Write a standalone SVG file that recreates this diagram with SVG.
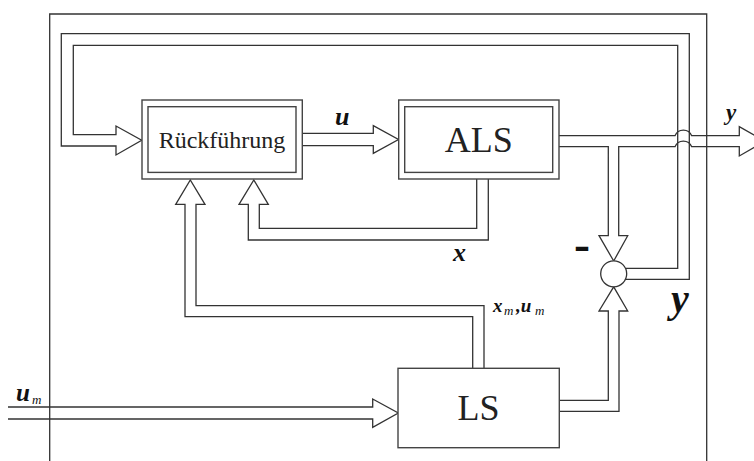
<svg xmlns="http://www.w3.org/2000/svg" width="754" height="461" viewBox="0 0 754 461">
<style>
.ln{fill:none;stroke:#333;stroke-width:1.3}
.box{fill:#fff;stroke:#444;stroke-width:1.4}
.t{font-family:"Liberation Serif","Times New Roman",serif;fill:#222}
.v{font-family:"Liberation Serif","Times New Roman",serif;font-weight:bold;font-style:italic;fill:#111}
.s{font-family:"Liberation Serif","Times New Roman",serif;font-style:italic;font-weight:normal;font-size:13px;fill:#111}
</style>
<rect width="754" height="461" fill="#fff"/>
<path id="frame" class="ln" stroke="#555" d="M49.7,461 V14 H706.7 V461"/>
<g id="connectors">
  <path class="ln" d="M625.5,268.3 H677.7 V45.3 H73.3 V134.7 H116 V126 L141.7,140.3 L116,155 V146 H61.3 V33.7 H689.3 V279.3 H625.5"/>
  <path class="ln" d="M302,133.3 H373.3 V125.7 L398.5,139.5 L373.3,153.3 V145.7 H302"/>
  <path class="ln" d="M559,135.7 H675 A9 9 0 0 1 691.7,135.7 H739.3 V126.7 L765,141.3 L739.3,156 V146.7 H691.7 A9 9 0 0 0 675,146.7 H618.7 V235.7 H627.7 L613.7,261 L599,235.7 H608.3 V146.7 H559"/>
  <path class="ln" d="M559.3,400.3 H608.3 V311 H599 L613.7,286.8 L627.7,311 H619 V411.3 H559.3"/>
  <path class="ln" d="M476.7,179 V228.3 H259.3 V204.3 H268.3 L253.8,180 L239,204.3 H248.3 V240 H488.3 V179"/>
  <path class="ln" d="M472.7,368.3 V316.7 H185 V204.3 H175.7 L190.3,180 L205,204.3 H196 V305.7 H484 V368.3"/>
  <path class="ln" d="M8,407 H372.7 V399 L398.3,413 L372.7,427.3 V419 H8"/>
</g>
<g id="rueckfuehrung">
  <rect class="box" x="142" y="100" width="160.3" height="79"/>
  <rect class="box" x="148" y="106.7" width="148" height="65.7"/>
  <text class="t" x="222" y="148" font-size="24" text-anchor="middle">Rückführung</text>
</g>
<g id="als">
  <rect class="box" x="398.7" y="100" width="160.3" height="79"/>
  <rect class="box" x="404.7" y="106.7" width="148" height="65.7"/>
  <text class="t" x="478.8" y="152" font-size="36" text-anchor="middle">ALS</text>
</g>
<g id="ls">
  <rect class="box" x="398" y="368.3" width="161.3" height="79.4"/>
  <text class="t" x="478.5" y="420" font-size="36" text-anchor="middle">LS</text>
</g>
<g id="sum">
  <circle cx="613.7" cy="273.8" r="13" fill="#fff" stroke="#333" stroke-width="1.3"/>
</g>
<g id="labels">
  <text class="v" x="335" y="125" font-size="26">u</text>
  <text class="v" x="726" y="120" font-size="23">y</text>
  <text class="v" x="453" y="261" font-size="26">x</text>
  <text class="v" x="574" y="260" font-size="48" style="font-style:normal">-</text>
  <text class="v" x="671" y="312" font-size="40">y</text>
  <text class="v" x="493" y="311.5" font-size="19">x<tspan class="s" x="504" y="315">m</tspan><tspan x="516" y="311.5">,u</tspan><tspan class="s" x="535" y="315">m</tspan></text>
  <text class="v" x="16" y="401" font-size="25">u<tspan class="s" x="32" y="404">m</tspan></text>
</g>
</svg>
